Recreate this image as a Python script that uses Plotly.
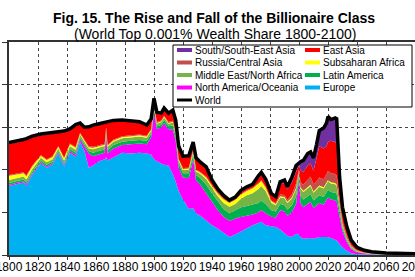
import plotly.graph_objects as go

# ---------------- data (top 0.001% wealth share, in grid units) ----------------
years = [1800, 1806, 1810, 1812, 1816, 1822, 1826, 1830, 1834, 1838, 1842, 1846, 1849,
         1852, 1855, 1858, 1862, 1866, 1867, 1868, 1872, 1878, 1884, 1890, 1895, 1898,
         1900, 1902, 1905, 1907, 1910, 1913, 1915, 1917, 1920, 1924, 1927, 1929, 1932,
         1936, 1940, 1944, 1948, 1952, 1956, 1960, 1964, 1968, 1972, 1974, 1977, 1981,
         1984, 1987, 1990, 1992, 1995, 1998, 2000, 2001, 2003, 2006, 2008, 2010, 2012,
         2014, 2017, 2019, 2020, 2022, 2025, 2026, 2028, 2030, 2033, 2036, 2040, 2045,
         2050, 2060, 2080, 2100]

europe = [1.62, 1.67, 1.70, 1.62, 1.88, 2.15, 2.05, 2.12, 2.38, 2.08, 2.40, 2.30, 2.66,
          2.45, 2.05, 2.10, 2.20, 2.25, 2.30, 2.22, 2.30, 2.40, 2.38, 2.40, 2.38, 2.36,
          2.25, 2.20, 2.15, 2.12, 2.10, 1.90, 1.72, 1.50, 1.30, 1.08, 1.10, 0.98, 0.92,
          0.80, 0.70, 0.62, 0.52, 0.42, 0.48, 0.55, 0.62, 0.70, 0.75, 0.78, 0.70, 0.68,
          0.66, 0.60, 0.52, 0.45, 0.42, 0.50, 0.48, 0.42, 0.38, 0.40, 0.40, 0.38, 0.40,
          0.42, 0.42, 0.42, 0.42, 0.40, 0.35, 0.34, 0.26, 0.18, 0.10, 0.04, 0.015, 0.008,
          0.005, 0.003, 0.002, 0.002]

north_america = [0.03, 0.03, 0.03, 0.04, 0.03, 0.03, 0.03, 0.03, 0.03, 0.03, 0.04, 0.05, 0.05,
                 0.10, 0.33, 0.22, 0.16, 0.15, 0.50, 0.16, 0.20, 0.18, 0.22, 0.22, 0.22, 0.40,
                 1.10, 0.75, 0.85, 0.98, 0.85, 1.05, 0.95, 0.55, 0.52, 0.72, 1.15, 0.77, 0.73,
                 0.65, 0.55, 0.43, 0.38, 0.38, 0.37, 0.35, 0.30, 0.25, 0.25, 0.27, 0.28, 0.22,
                 0.22, 0.45, 0.50, 0.47, 0.58, 0.70, 1.30, 0.80, 0.74, 0.80, 0.85, 0.72, 0.75,
                 0.80, 0.76, 0.86, 0.93, 0.90, 0.93, 0.91, 0.64, 0.37, 0.20, 0.10, 0.045, 0.025,
                 0.015, 0.008, 0.005, 0.004]

latin_america = [0.04, 0.04, 0.04, 0.04, 0.04, 0.04, 0.04, 0.04, 0.04, 0.05, 0.05, 0.05, 0.05,
                 0.05, 0.06, 0.08, 0.08, 0.08, 0.08, 0.08, 0.08, 0.08, 0.08, 0.08, 0.08, 0.08,
                 0.07, 0.07, 0.06, 0.07, 0.07, 0.09, 0.10, 0.10, 0.10, 0.12, 0.10, 0.13, 0.15,
                 0.20, 0.20, 0.20, 0.18, 0.18, 0.20, 0.22, 0.23, 0.23, 0.22, 0.23, 0.22, 0.15,
                 0.14, 0.15, 0.15, 0.15, 0.16, 0.18, 0.10, 0.17, 0.18, 0.18, 0.18, 0.18, 0.18,
                 0.18, 0.18, 0.18, 0.18, 0.18, 0.18, 0.18, 0.12, 0.07, 0.04, 0.02, 0.01, 0.006,
                 0.004, 0.003, 0.002, 0.002]

middle_east = [0.07, 0.07, 0.07, 0.07, 0.06, 0.06, 0.06, 0.06, 0.05, 0.06, 0.06, 0.07, 0.06,
               0.06, 0.06, 0.08, 0.08, 0.08, 0.08, 0.08, 0.08, 0.08, 0.08, 0.08, 0.07, 0.07,
               0.06, 0.06, 0.06, 0.06, 0.06, 0.07, 0.07, 0.07, 0.07, 0.08, 0.07, 0.08, 0.10,
               0.13, 0.13, 0.13, 0.14, 0.15, 0.15, 0.20, 0.25, 0.27, 0.33, 0.34, 0.30, 0.17,
               0.15, 0.15, 0.16, 0.15, 0.16, 0.17, 0.08, 0.17, 0.18, 0.18, 0.19, 0.18, 0.19,
               0.20, 0.20, 0.20, 0.20, 0.20, 0.20, 0.19, 0.13, 0.08, 0.05, 0.03, 0.02, 0.01,
               0.007, 0.005, 0.003, 0.003]

subsaharan_africa = [0.10, 0.09, 0.08, 0.08, 0.07, 0.05, 0.05, 0.05, 0.04, 0.05, 0.05, 0.05, 0.03,
                     0.03, 0.03, 0.04, 0.03, 0.03, 0.03, 0.03, 0.03, 0.03, 0.03, 0.03, 0.03, 0.03,
                     0.02, 0.02, 0.02, 0.02, 0.02, 0.02, 0.02, 0.02, 0.03, 0.03, 0.03, 0.03, 0.03,
                     0.04, 0.04, 0.06, 0.08, 0.09, 0.09, 0.10, 0.10, 0.11, 0.12, 0.12, 0.08, 0.04,
                     0.03, 0.03, 0.03, 0.03, 0.03, 0.03, 0.02, 0.03, 0.03, 0.03, 0.03, 0.03, 0.03,
                     0.03, 0.03, 0.03, 0.03, 0.03, 0.03, 0.03, 0.02, 0.02, 0.01, 0.01, 0.005, 0.003,
                     0.002, 0.001, 0.001, 0.001]

russia_central_asia = [0.02, 0.02, 0.02, 0.02, 0.02, 0.02, 0.02, 0.02, 0.02, 0.02, 0.02, 0.02, 0.02,
                       0.02, 0.02, 0.02, 0.02, 0.02, 0.02, 0.02, 0.02, 0.02, 0.02, 0.02, 0.02, 0.02,
                       0.02, 0.02, 0.02, 0.02, 0.02, 0.02, 0.02, 0.02, 0.02, 0.02, 0.02, 0.02, 0.02,
                       0.02, 0.02, 0.02, 0.02, 0.02, 0.02, 0.02, 0.02, 0.02, 0.02, 0.02, 0.02, 0.02,
                       0.02, 0.04, 0.05, 0.05, 0.07, 0.10, 0.05, 0.12, 0.14, 0.17, 0.19, 0.17, 0.17,
                       0.19, 0.19, 0.21, 0.22, 0.21, 0.21, 0.21, 0.13, 0.08, 0.05, 0.03, 0.015, 0.01,
                       0.007, 0.005, 0.003, 0.003]

east_asia = [0.73, 0.72, 0.74, 0.83, 0.66, 0.46, 0.58, 0.52, 0.31, 0.59, 0.31, 0.49, 0.20,
             0.26, 0.43, 0.48, 0.48, 0.47, 0.09, 0.50, 0.42, 0.35, 0.31, 0.27, 0.22, 0.20,
             0.14, 0.20, 0.14, 0.15, 0.18, 0.22, 0.25, 0.27, 0.25, 0.25, 0.15, 0.24, 0.20,
             0.20, 0.10, 0.06, 0.05, 0.02, 0.02, 0.04, 0.04, 0.04, 0.11, 0.12, 0.12, 0.12,
             0.11, 0.24, 0.27, 0.24, 0.28, 0.27, 0.08, 0.28, 0.30, 0.34, 0.31, 0.32, 0.56,
             0.73, 0.72, 0.65, 0.67, 0.76, 0.75, 0.74, 0.45, 0.30, 0.19, 0.11, 0.06, 0.04,
             0.03, 0.018, 0.01, 0.008]

south_asia = [0.03, 0.03, 0.03, 0.03, 0.03, 0.03, 0.03, 0.03, 0.03, 0.03, 0.03, 0.03, 0.03,
              0.03, 0.03, 0.03, 0.03, 0.03, 0.03, 0.03, 0.03, 0.03, 0.03, 0.03, 0.03, 0.03,
              0.02, 0.03, 0.03, 0.03, 0.03, 0.03, 0.03, 0.03, 0.03, 0.03, 0.03, 0.03, 0.03,
              0.03, 0.02, 0.03, 0.03, 0.03, 0.03, 0.04, 0.04, 0.04, 0.06, 0.06, 0.06, 0.04,
              0.04, 0.06, 0.08, 0.06, 0.12, 0.15, 0.05, 0.20, 0.27, 0.28, 0.27, 0.30, 0.30,
              0.37, 0.48, 0.55, 0.60, 0.50, 0.57, 0.60, 0.08, 0.02, 0.02, 0.01, 0.01, 0.008,
              0.006, 0.004, 0.003, 0.002]

# stacking order, bottom to top
stack = [
    ("Europe", europe, "#00B0F0"),
    ("North America/Oceania", north_america, "#FF00FF"),
    ("Latin America", latin_america, "#00B050"),
    ("Middle East/North Africa", middle_east, "#77B347"),
    ("Subsaharan Africa", subsaharan_africa, "#FFFF00"),
    ("Russia/Central Asia", russia_central_asia, "#C0504D"),
    ("East Asia", east_asia, "#FF0000"),
    ("South/South-East Asia", south_asia, "#7030A0"),
]

# the world total is the top of the regional stack
world = [round(sum(vals), 4) for vals in zip(*[s[1] for s in stack])]

x_ticks = list(range(1800, 2101, 20))

FONT = "Liberation Sans, Arial, sans-serif"

fig = go.Figure()
for name, vals, color in stack:
    fig.add_trace(go.Scatter(
        x=years, y=vals, name=name, mode="lines", stackgroup="regions",
        line=dict(width=0, color=color), fillcolor=color, showlegend=False,
    ))
fig.add_trace(go.Scatter(
    x=years, y=world, name="World", mode="lines",
    line=dict(color="black", width=3.5), showlegend=False,
))

# ---------------- layout geometry ----------------
W, H = 415, 277
ML, MR, MT, MB = 9, 0, 42, 22
PW, PH = W - ML - MR, H - MT - MB


def px(xp):
    return (xp - ML) / PW


def py(yp):
    return (H - MB - yp) / PH


# manual compact legend (two columns, framed)
legend_items = [(s[0], s[2]) for s in reversed(stack)] + [("World", "black")]
shapes = [dict(type="rect", xref="paper", yref="paper",
               x0=px(173), x1=px(412), y0=py(107), y1=py(45),
               line=dict(color="black", width=1), fillcolor="white", layer="above")]
annotations = []
col_x = [177, 305]
row_y0, row_dy = 50, 12.5
for i, (label, color) in enumerate(legend_items):
    row, col = divmod(i, 2)
    yc = row_y0 + row * row_dy
    x0 = col_x[col]
    if label == "World":
        shapes.append(dict(type="line", xref="paper", yref="paper",
                           x0=px(x0), x1=px(x0 + 15), y0=py(yc), y1=py(yc),
                           line=dict(color=color, width=3), layer="above"))
    else:
        shapes.append(dict(type="rect", xref="paper", yref="paper",
                           x0=px(x0), x1=px(x0 + 15), y0=py(yc + 2), y1=py(yc - 2),
                           line=dict(width=0), fillcolor=color, layer="above"))
    annotations.append(dict(text=label, xref="paper", yref="paper",
                            x=px(x0 + 16), y=py(yc), xanchor="left", yanchor="middle",
                            showarrow=False, font=dict(family=FONT, size=10, color="black")))

annotations.append(dict(text="<b>Fig. 15. The Rise and Fall of the Billionaire Class</b>",
                        xref="paper", yref="paper", x=px(214), y=py(17.5),
                        xanchor="center", yanchor="middle", showarrow=False,
                        font=dict(family=FONT, size=14, color="black")))
annotations.append(dict(text="(World Top 0.001% Wealth Share 1800-2100)",
                        xref="paper", yref="paper", x=px(215), y=py(34),
                        xanchor="center", yanchor="middle", showarrow=False,
                        font=dict(family=FONT, size=14, color="black")))

fig.update_layout(
    width=W, height=H,
    margin=dict(l=ML, r=MR, t=MT, b=MB, pad=0, autoexpand=False),
    paper_bgcolor="white", plot_bgcolor="white",
    showlegend=False,
    font=dict(family=FONT, color="black"),
    shapes=shapes, annotations=annotations,
    xaxis=dict(range=[1800, 2080], tickvals=x_ticks, ticktext=[str(t) for t in x_ticks],
               ticks="outside", ticklen=3, tickcolor="#333", automargin=False,
               tickangle=0, ticklabeloverflow="allow", ticklabelstandoff=-3,
               showgrid=True, gridcolor="#444", griddash="dot", gridwidth=1,
               showline=True, linecolor="#333", linewidth=1.5, mirror=True,
               zeroline=False, tickfont=dict(family=FONT, size=12, color="black")),
    yaxis=dict(range=[0, 5], dtick=1, showticklabels=False, automargin=False,
               ticks="outside", ticklen=5, tickcolor="#333",
               showgrid=True, gridcolor="#444", griddash="dot", gridwidth=1,
               showline=True, linecolor="#333", linewidth=1.5, mirror=True,
               zeroline=False),
)

fig.write_html("out.html")
